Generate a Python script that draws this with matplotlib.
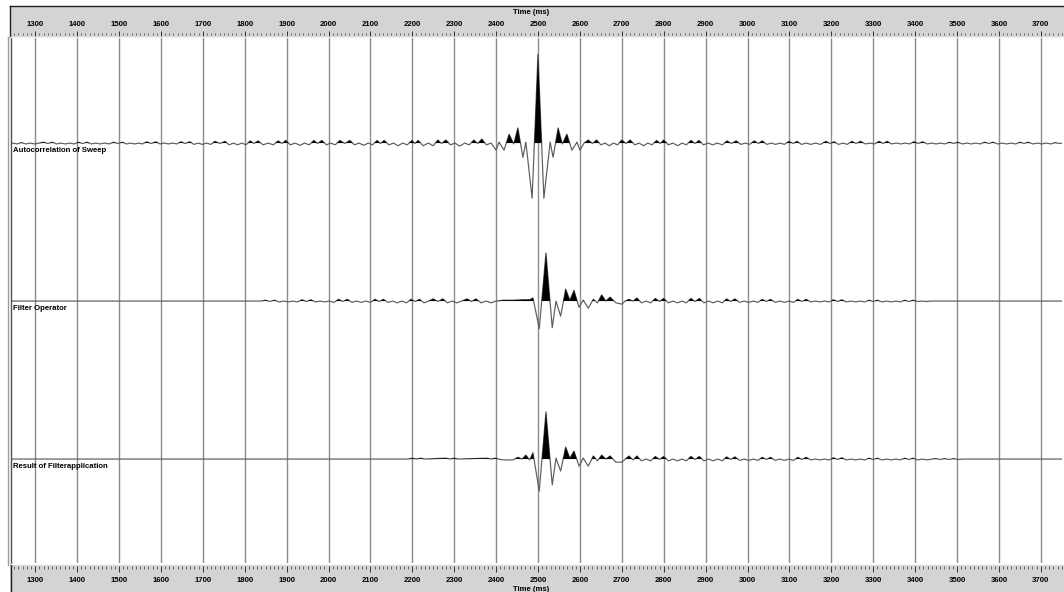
import numpy as np
import matplotlib.pyplot as plt
from matplotlib.lines import Line2D

# wiggle traces: extremum times (ms) and amplitudes (% of sweep autocorrelation peak)
auto_t = [1245, 1256, 1267, 1278, 1288, 1299, 1309,
          1320, 1330, 1341, 1351, 1361, 1372, 1382, 1393,
          1403, 1413, 1424, 1434, 1445, 1455, 1466, 1476,
          1487, 1497, 1508, 1518, 1528, 1537, 1547, 1556,
          1566, 1577, 1588, 1598, 1608, 1618, 1628, 1638,
          1648, 1658, 1669, 1679, 1689, 1699, 1709, 1719,
          1729, 1741, 1753, 1763, 1773, 1783, 1793, 1803,
          1813, 1822, 1832, 1844, 1856, 1868,
          1880, 1889, 1898, 1909, 1920, 1932, 1943, 1954,
          1965, 1974, 1984, 1995, 2005, 2016,
          2027, 2039, 2051, 2062, 2073, 2084, 2095, 2105,
          2116, 2124, 2133, 2144, 2155, 2166, 2177, 2188,
          2199, 2206, 2214, 2226, 2238, 2250,
          2261, 2270, 2280, 2291, 2302, 2313, 2325, 2336,
          2347, 2356, 2366, 2377, 2388,
          2400, 2407, 2419, 2431, 2442, 2452, 2464, 2471, 2486, 2500,
          2514, 2529, 2536, 2548, 2558, 2569, 2581, 2593, 2600,
          2610, 2620, 2630, 2640, 2650, 2660, 2670, 2680, 2690,
          2700, 2710, 2720, 2731, 2741, 2752, 2762, 2772,
          2783, 2792, 2800, 2811, 2822, 2833, 2844, 2854,
          2865, 2875, 2884, 2895, 2906, 2917, 2928, 2940,
          2951, 2962, 2973, 2984, 2995, 3005,
          3016, 3026, 3035, 3046, 3057, 3067, 3078, 3088,
          3099, 3109, 3118, 3129, 3140, 3151, 3162, 3174,
          3187, 3197, 3207, 3217, 3228, 3238,
          3249, 3259, 3270, 3281, 3292, 3303,
          3314, 3324, 3333, 3344, 3355, 3366, 3376, 3387,
          3397, 3408, 3418, 3429, 3440, 3450, 3461, 3471,
          3482, 3492, 3502, 3513, 3524, 3534, 3545, 3555,
          3566, 3576, 3586, 3597, 3608, 3618, 3629, 3640,
          3650, 3660, 3670, 3681, 3692, 3702, 3713, 3724,
          3734, 3745, 3751]
auto_a = [0, -1, 0.5, -1, 0, -1, 0,
          1, -0.5, 1, -1, 0, -1, 0, -1,
          1, -0.5, 1, -1, 0, -1, 0, -1,
          1, -0.5, 1, -1, 0, -1, 0, -1,
          1.5, -0.5, 1.5, -1, 0, -1, 0, -1,
          1.5, -0.5, 1.5, -1.5, 0, -1.5, 0, -1.5,
          2, -0.5, 2, -2, 0, -2, 0, -2,
          2.5, -0.5, 2.5, -2, 0, -2,
          2.5, -0.5, 3, -2, 0, -2.5, 0, -2,
          3, -0.5, 3, -2, 0, -2,
          3, -0.5, 3, -2, 0, -2.5, 0, -2,
          3, -0.5, 3, -2, 0, -3, 0, -2,
          3, -0.5, 3, -3, 0, -3,
          3.5, -0.5, 3.5, -2, 0, -3.5, 0, -2,
          3.5, -0.5, 4.5, -2, 0,
          -8, 1, -8, 10, -1, 17, -16, 1, -62, 100,
          -62, 1, -16, 17, -1, 10, -8, 1, -8,
          0, 3.5, -0.5, 3.5, -2, 0, -3, 0, -2,
          3.5, -0.5, 3.5, -2, 0, -3, 0, -2,
          3, -0.5, 3.5, -2, 0, -3, 0, -2,
          3, -0.5, 3, -2, 0, -2, 0, -2,
          2.5, -0.5, 2.5, -1.5, 0, -1.5,
          2.5, -0.5, 2.5, -1.5, 0, -1.5, 0, -1.5,
          2, -0.5, 2, -1.5, 0, -1.5, 0, -1.5,
          2, -0.5, 1.5, -1.5, 0, -1.5,
          2, -0.5, 2, -1, 0, -1,
          2, -0.5, 2, -1, 0, -1, 0, -1,
          1.5, -0.5, 1.5, -1, 0, -1, 0, -1,
          1, -0.5, 1, -1, 0, -1, 0, -1,
          1, -0.5, 1, -1, 0, -1, 0, -1,
          1, -0.5, 1, -1, 0, -1, 0, -1,
          0.5, -0.5, 0]

filt_t = [1245, 1840,
          1850, 1860, 1871, 1882, 1893, 1904, 1915, 1926,
          1937, 1947, 1958, 1969, 1980, 1991, 2002, 2013,
          2024, 2034, 2045, 2056, 2067, 2078, 2089, 2100,
          2111, 2121, 2131, 2142, 2153, 2164, 2175, 2186,
          2197, 2207, 2217, 2228, 2239,
          2250, 2261, 2273, 2284, 2295, 2306, 2318,
          2331, 2341, 2352, 2364, 2376, 2388, 2400, 2410,
          2415, 2440, 2465, 2480, 2488, 2503, 2519, 2534, 2543, 2554,
          2566, 2576, 2586, 2598, 2608, 2620, 2632, 2642, 2652, 2662,
          2672, 2686, 2700, 2708, 2717, 2727, 2736, 2747, 2758, 2769,
          2780, 2790, 2800, 2811, 2822, 2833, 2844, 2854,
          2865, 2875, 2885, 2896, 2907, 2918, 2929, 2940,
          2950, 2960, 2970, 2981, 2992, 3003, 3014, 3025,
          3035, 3045, 3055, 3066, 3077, 3088, 3099, 3110,
          3120, 3130, 3140, 3151, 3162, 3173, 3184, 3195,
          3205, 3215, 3225, 3236, 3247, 3258, 3269, 3280,
          3290, 3300, 3310, 3321, 3332, 3343, 3354, 3365,
          3375, 3385, 3395, 3406, 3417, 3428, 3440, 3751]
filt_a = [0, 0,
          1, -0.5, 1, -1, 0, -1, 0, -1,
          1.5, -0.5, 1.5, -1, 0, -1, 0, -1.5,
          2, -0.5, 2, -1.5, 0, -1.5, 0, -1.5,
          2, -0.5, 2, -1.5, 0, -2, 0, -2,
          2, -0.5, 2, -2, 0,
          2.5, -0.5, 2.5, -2, 0, -2, 0,
          2.5, -0.5, 2.5, -2, 0, -2, 0, 0.5,
          1, 1, 1.5, 1.5, 3.5, -31, 54, -30, 0, -17,
          13.5, 1, 12, -7, 1, -8, 2, -2, 7, 0,
          4.5, -2, -3.5, 0, 2, 0, 3.5, -2, 0, -2,
          3, -0.5, 3, -2, 0, -2, 0, -2,
          3, -0.5, 3, -2, 0, -2, 0, -2,
          2.5, -0.5, 2.5, -1.5, 0, -1.5, 0, -1.5,
          2, -0.5, 2, -1.5, 0, -1.5, 0, -1.5,
          2, -0.5, 2, -1, 0, -1, 0, -1,
          1.5, -0.5, 1.5, -1, 0, -1, 0, -1,
          1, -0.5, 1, -1, 0, -1, 0, -1,
          1, -0.5, 1, -0.5, 0, -0.5, 0, 0]

result_t = [1245, 2190, 2200, 2210, 2220, 2230, 2280, 2290, 2300, 2310,
            2378, 2388, 2398, 2410, 2420, 2440, 2452, 2462, 2471, 2480,
            2488, 2503, 2519, 2534, 2543, 2554, 2566, 2576, 2586, 2598,
            2608, 2620, 2632, 2642, 2652, 2662, 2672, 2686, 2700, 2717,
            2727, 2736, 2747, 2758, 2769,
            2780, 2790, 2800, 2811, 2822, 2833, 2844, 2854,
            2865, 2875, 2885, 2896, 2907, 2918, 2929, 2940,
            2950, 2960, 2970, 2981, 2992, 3003, 3014, 3025,
            3035, 3045, 3055, 3066, 3077, 3088, 3099, 3110,
            3120, 3130, 3140, 3151, 3162, 3173, 3184, 3195,
            3205, 3215, 3225, 3236, 3247, 3258, 3269, 3280,
            3290, 3300, 3310, 3321, 3332, 3343, 3354, 3365,
            3375, 3385, 3395, 3406, 3417, 3428, 3440,
            3450, 3460, 3470, 3481, 3492, 3503, 3515, 3751]
result_a = [0, 0, 1, 0, 1, 0, 1, 0, 1, 0,
            1, 0, 1, -0.5, -1, -1, 2, 0, 4.5, -1,
            7, -36, 53, -29, 1, -13.5, 13.5, 1, 9, -8,
            1, -8, 3.5, -2, 4.5, 0, 3.5, -3.5, -3.5, 3.5,
            -1, 3.5, -2, 0, -2,
            3, -0.5, 3, -2, 0, -2, 0, -2,
            3, -0.5, 3, -2, 0, -2, 0, -2,
            2.5, -0.5, 2.5, -1.5, 0, -1.5, 0, -1.5,
            2, -0.5, 2, -1.5, 0, -1.5, 0, -1.5,
            2, -0.5, 2, -1, 0, -1, 0, -1,
            1.5, -0.5, 1.5, -1, 0, -1, 0, -1,
            1, -0.5, 1, -1, 0, -1, 0, -1,
            1, -0.5, 1, -1, 0, -1, 0,
            0.5, -0.5, 0.5, -0.5, 0.5, -0.5, 0, 0]

trace_names = ['Autocorrelation of Sweep', 'Filter Operator', 'Result of Filterapplication']
tick_ms = list(range(1300, 3701, 100))

W, H = 1064, 592
plt.rcParams['font.family'] = ['Liberation Sans', 'DejaVu Sans']
fig = plt.figure(figsize=(W / 100, H / 100), dpi=100)
fig.patch.set_facecolor('white')

# time scale of the display: 2500 ms sits at pixel 538, 0.419 px per ms
def ms_at(px):
    return 2500 + (px - 538) / 0.419

def box(x0, y0, x1, y1):
    return fig.add_axes([x0 / W, 1 - y1 / H, (x1 - x0) / W, (y1 - y0) / H])

# main trace panel
ax = box(12, 38, 1062, 563)
ax.set_xlim(ms_at(12), ms_at(1062))
ax.set_ylim(-2.658, 0.665)
for s in ax.spines.values():
    s.set_visible(False)
ax.set_xticks([])
ax.set_yticks([])

for t in tick_ms:
    ax.axvline(t, color='#8c8c8c', lw=1.0, zorder=1)

gain = 89 / 158 / 100   # trace spacing units per % amplitude
traces = [(auto_t, auto_a), (filt_t, filt_a), (result_t, result_a)]
for i, (t, a) in enumerate(traces):
    t = np.asarray(t, float)
    y = -i + np.asarray(a, float) * gain
    ax.fill_between(t, -i, y, where=y > -i, interpolate=True,
                    color='black', lw=0, zorder=3)
    ax.plot(t, y, color='#5c5c5c', lw=0.85, zorder=2)
    ax.text(0.001, -i - 7 / 158, trace_names[i], transform=ax.get_yaxis_transform(),
            ha='left', va='center', fontsize=5.6, fontweight='bold', zorder=4)

minor_ms = [m for m in np.arange(1250, 3760, 10) if m % 100 != 0]

# time rulers above and below the panel
def ruler(y0, y1, top_side):
    r = box(10, y0, 1064, y1)
    r.set_facecolor('#d4d4d4')
    r.set_xlim(ms_at(10), ms_at(1064))
    r.set_ylim(y1, y0)      # pixel rows, growing downward
    r.set_xticks([])
    r.set_yticks([])
    for s in r.spines.values():
        s.set_visible(False)
    if top_side:
        r.vlines(tick_ms, 30.5, 36, color='#303030', lw=0.7)
        r.vlines(minor_ms, 33, 35, color='#505050', lw=0.6)
        lab_y, name_y = 24, 13
    else:
        r.vlines(tick_ms, 565.5, 572, color='#303030', lw=0.7)
        r.vlines(minor_ms, 566, 569, color='#505050', lw=0.6)
        lab_y, name_y = 580.5, 589
    for t in tick_ms:
        r.text(t, lab_y, str(t), ha='center', va='center', fontsize=5.6, fontweight='bold')
    r.text(ms_at(531), name_y, 'Time (ms)', ha='center', va='center',
           fontsize=5.6, fontweight='bold')
    return r

ruler(6, 37, True)
ruler(564, 600, False)

# window frame lines
frame = [([10, 10], [6, 37], '#202020'), ([10, 1064], [6, 6], '#202020'),
         ([8, 8], [37, 565], '#9a9a9a'), ([11, 11], [37, 565], '#505050'),
         ([11, 11], [565, 592], '#202020'), ([10, 1064], [37, 37], '#f0f0f0'),
         ([11, 1064], [564, 564], '#f8f8f8')]
for xs, ys, c in frame:
    fig.add_artist(Line2D([x / W for x in xs], [1 - y / H for y in ys],
                          color=c, lw=1.0, transform=fig.transFigure))

fig.savefig('out.png', dpi=100)
